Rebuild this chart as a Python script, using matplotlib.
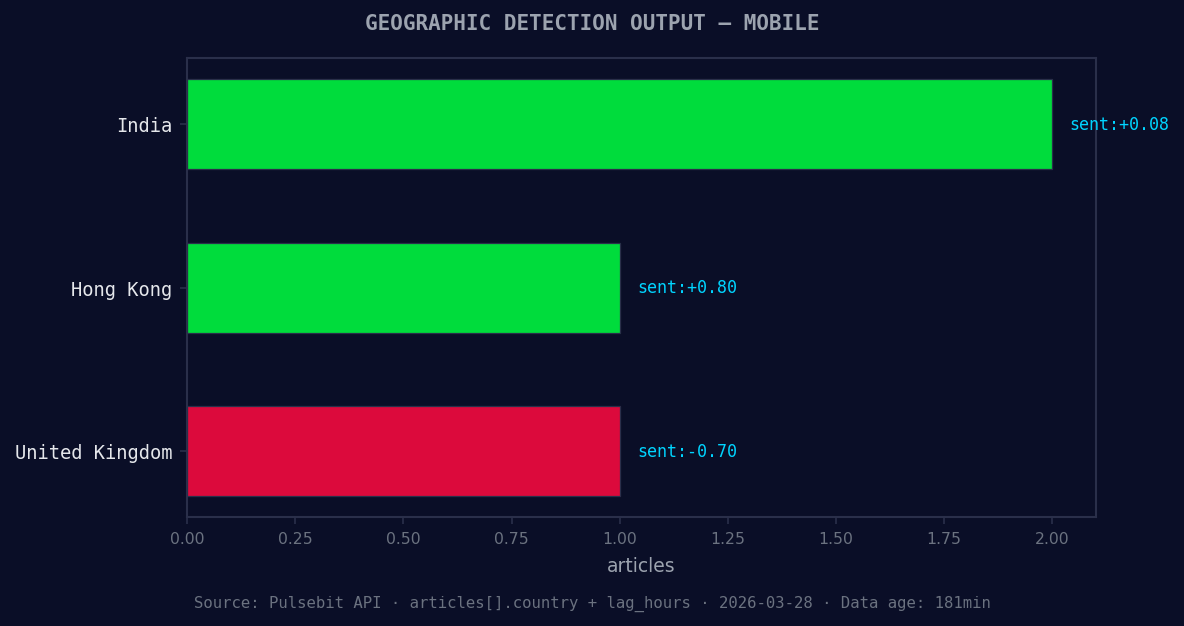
import matplotlib
matplotlib.use("Agg")
import matplotlib.pyplot as plt

countries = ["United Kingdom", "Hong Kong", "India"]
articles = [1, 1, 2]
sentiment = [-0.70, 0.80, 0.08]

BG = "#0a0e27"
GREEN = "#00dc3c"
RED = "#dc0a3c"
CYAN = "#00d4ff"
SPINE = "#2a2f4a"

fig = plt.figure(figsize=(1184.4 / 150, 626.4 / 150), dpi=150, facecolor=BG)
ax = fig.add_axes([0.158, 0.174, 0.767, 0.732], facecolor=BG)

colors = [GREEN if s >= 0 else RED for s in sentiment]
ax.barh(countries, articles, height=0.55, color=colors, edgecolor=SPINE, linewidth=0.6)

for i, (v, s) in enumerate(zip(articles, sentiment)):
    ax.text(v + 0.04, i, f"sent:{s:+.2f}", color=CYAN, fontsize=8,
            family="DejaVu Sans Mono", va="center", ha="left")

ax.set_xlim(0, 2.1)
for sp in ax.spines.values():
    sp.set_color(SPINE)
    sp.set_linewidth(1.0)
ax.tick_params(axis="x", colors=SPINE, labelcolor="#6b7280", labelsize=7.5)
ax.tick_params(axis="y", colors=SPINE, labelcolor="#e5e7eb", labelsize=9)
for lab in ax.get_yticklabels():
    lab.set_family("DejaVu Sans Mono")
ax.set_xlabel("articles", color="#9ca3af", fontsize=9, labelpad=5)

fig.text(0.5, 0.962, "GEOGRAPHIC DETECTION OUTPUT — MOBILE", ha="center", va="center",
         color="#9ca3af", fontsize=10, fontweight="bold", family="DejaVu Sans Mono")
fig.text(0.5, 0.0367, "Source: Pulsebit API · articles[].country + lag_hours · 2026-03-28 · Data age: 181min",
         ha="center", va="center", color="#6b7280", fontsize=7.5, family="DejaVu Sans Mono")

fig.savefig("out.png", dpi=150, facecolor=BG)
